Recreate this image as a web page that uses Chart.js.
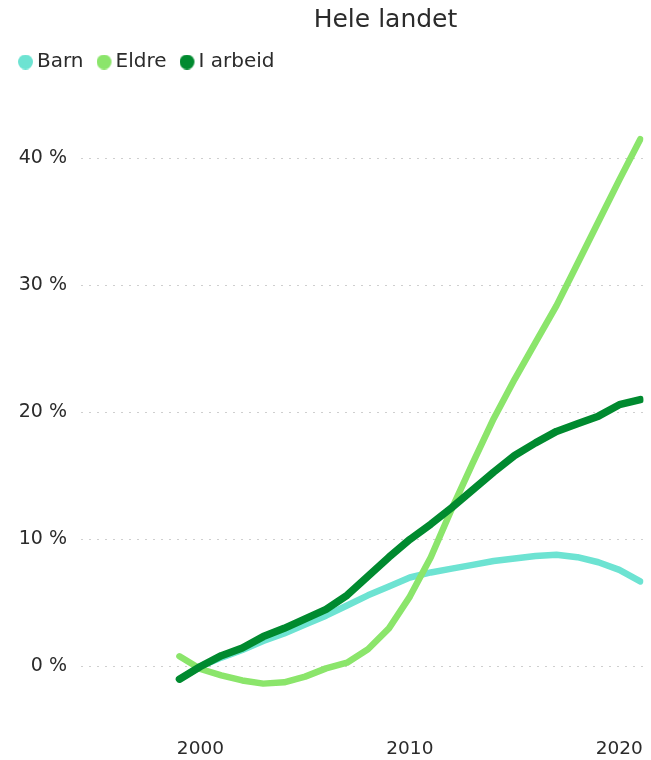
<!DOCTYPE html>
<html>
<head>
<meta charset="utf-8">
<script src="https://cdn.jsdelivr.net/npm/chart.js@4"></script>
<style>
  html, body { margin: 0; padding: 0; background: #ffffff; }
  #wrap { position: relative; width: 651px; height: 760px; }
  canvas { display: block; }
</style>
</head>
<body>
<div id="wrap"><canvas id="c" width="651" height="760"></canvas></div>
<script>
// ---- data ----
const titleText = 'Hele landet';
const years = [1999, 2000, 2001, 2002, 2003, 2004, 2005, 2006, 2007, 2008, 2009, 2010,
               2011, 2012, 2013, 2014, 2015, 2016, 2017, 2018, 2019, 2020, 2021];
const seriesNames = ['Barn', 'Eldre', 'I arbeid'];
const barn    = [-1.0, 0.0, 0.7, 1.3, 2.0, 2.6, 3.3, 4.0, 4.8, 5.6, 6.3, 7.0,
                 7.4, 7.7, 8.0, 8.3, 8.5, 8.7, 8.8, 8.6, 8.2, 7.6, 6.7];
const eldre   = [0.8, -0.2, -0.7, -1.1, -1.35, -1.25, -0.8, -0.15, 0.3, 1.35, 3.0, 5.5,
                 8.6, 12.4, 16.0, 19.5, 22.6, 25.5, 28.4, 31.7, 35.0, 38.3, 41.5];
const iArbeid = [-1.0, 0.0, 0.85, 1.45, 2.35, 3.0, 3.75, 4.5, 5.6, 7.1, 8.6, 10.0,
                 11.2, 12.5, 13.9, 15.3, 16.6, 17.6, 18.5, 19.1, 19.7, 20.6, 21.0];
const xTickValues = [2000, 2010, 2020];
const yTickValues = [0, 10, 20, 30, 40];

// ---- styles ----
const colors = ['#6de3d2', '#8be56b', '#008a2f'];
const widths = [6.5, 6.5, 7.5];
const FONT = '"DejaVu Sans", Verdana, sans-serif';
const TEXT = '#2b2b2b';

function makeDot(color) {
  const c = document.createElement('canvas');
  c.width = 16; c.height = 15;
  const g = c.getContext('2d');
  g.fillStyle = color;
  g.beginPath();
  g.arc(7.5, 7.5, 7.5, 0, Math.PI * 2);
  g.fill();
  return c;
}
const dots = colors.map(makeDot);

const seriesValues = [barn, eldre, iArbeid];
const datasets = seriesNames.map((name, i) => ({
  label: name,
  data: years.map((yr, j) => ({ x: yr, y: seriesValues[i][j] })),
  borderColor: colors[i],
  backgroundColor: colors[i],
  borderWidth: widths[i],
  borderCapStyle: 'round',
  borderJoinStyle: 'round',
  pointRadius: 0,
  pointHoverRadius: 0,
  tension: 0,
  fill: false,
  order: 3 - i
}));

const titlePlugin = {
  id: 'customTitle',
  afterDraw(chart) {
    const ctx = chart.ctx;
    ctx.save();
    ctx.font = '25px ' + FONT;
    ctx.fillStyle = TEXT;
    ctx.textAlign = 'center';
    ctx.textBaseline = 'alphabetic';
    ctx.fillText(titleText, 385.5, 27);
    ctx.restore();
  }
};

new Chart(document.getElementById('c'), {
  type: 'line',
  data: { datasets },
  plugins: [titlePlugin],
  options: {
    responsive: false,
    animation: false,
    events: [],
    layout: { padding: { top: 32, left: 5, right: 3, bottom: 0 } },
    plugins: {
      title: { display: false },
      tooltip: { enabled: false },
      legend: {
        display: true,
        position: 'top',
        align: 'start',
        labels: {
          usePointStyle: true,
          pointStyleWidth: 2,
          boxHeight: 15,
          padding: 20,
          color: TEXT,
          font: { family: FONT, size: 20 },
          generateLabels(chart) {
            return chart.data.datasets.map((ds, i) => ({
              text: ds.label,
              fillStyle: colors[i],
              strokeStyle: colors[i],
              lineWidth: 0,
              pointStyle: dots[i],
              fontColor: TEXT,
              hidden: false,
              datasetIndex: i
            }));
          }
        }
      }
    },
    scales: {
      x: {
        type: 'linear',
        min: 1994.3,
        max: 2021.15,
        afterFit(scale) { scale.height = 30; },
        grid: { display: false, drawTicks: false },
        border: { display: false },
        afterBuildTicks(scale) { scale.ticks = xTickValues.map(v => ({ value: v })); },
        ticks: {
          padding: 8,
          color: TEXT,
          font: { family: FONT, size: 18.5 },
          maxRotation: 0,
          autoSkip: false,
          callback: (v) => String(v)
        }
      },
      y: {
        type: 'linear',
        min: -5,
        max: 46,
        afterFit(scale) { scale.width = 76; },
        afterBuildTicks(scale) { scale.ticks = yTickValues.map(v => ({ value: v })); },
        grid: { color: '#cfcfcf', lineWidth: 1, drawTicks: false },
        border: { display: false, dash: [2, 6] },
        ticks: {
          padding: 14,
          color: TEXT,
          font: { family: FONT, size: 19 },
          autoSkip: false,
          callback: (v) => v + ' %'
        }
      }
    }
  }
});
</script>
</body>
</html>
